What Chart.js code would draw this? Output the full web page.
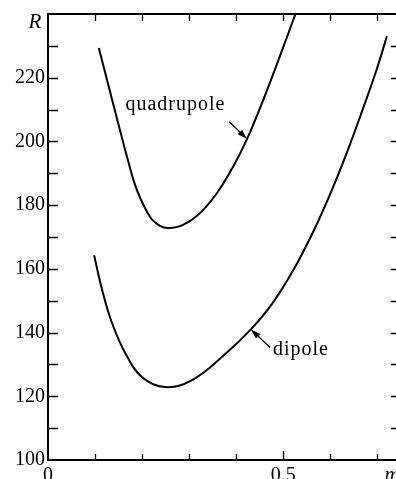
<!DOCTYPE html>
<html lang="en">
<head>
  <meta charset="UTF-8">
  <title>R vs m</title>
  <script src="https://cdn.jsdelivr.net/npm/chart.js"></script>
  <style>
    html, body { margin: 0; padding: 0; background: #fff; overflow: hidden; }
    #wrap { width: 402px; height: 479px; }
  </style>
</head>
<body>
  <div id="wrap"><canvas id="rChart" width="402" height="479"></canvas></div>

  <script>
    // values
    const quadM = [0.108, 0.132, 0.149, 0.168, 0.189, 0.217, 0.238, 0.256, 0.287, 0.323, 0.359, 0.393, 0.423, 0.450, 0.472, 0.499, 0.525];
    const quadR = [229.3, 215.5, 205.8, 195.1, 184.7, 176.3, 173.5, 172.8, 173.8, 177.5, 183.8, 192, 200.8, 210.3, 218.6, 229.3, 239.7];
    const dipM = [0.098, 0.115, 0.136, 0.164, 0.200, 0.249, 0.306, 0.376, 0.431, 0.476, 0.520, 0.563, 0.599, 0.635, 0.669, 0.699, 0.720];
    const dipR = [164.3, 153.4, 143, 133.6, 126, 122.9, 125.1, 133.2, 141, 149, 159.3, 171.5, 183.3, 196.5, 210.2, 222.9, 233];

    const yLabels = [100, 120, 140, 160, 180, 200, 220];
    const xLabels = [0, 0.5];

    const serif = '"Liberation Serif", "Times New Roman", serif';

    function pts(xs, ys) {
      return xs.map((x, i) => ({ x: x, y: ys[i] }));
    }

    // frame, inward ticks, labels and arrows
    const decor = {
      id: 'decor',
      afterDraw(chart) {
        const ctx = chart.ctx;
        const xs = chart.scales.x, ys = chart.scales.y;
        const a = chart.chartArea;
        ctx.save();
        ctx.strokeStyle = '#000';
        ctx.fillStyle = '#000';

        // frame
        ctx.lineWidth = 2;
        ctx.beginPath();
        ctx.moveTo(a.right, a.top);
        ctx.lineTo(a.left, a.top);
        ctx.lineTo(a.left, a.bottom);
        ctx.lineTo(a.right, a.bottom);
        ctx.lineTo(a.right, a.top);
        ctx.stroke();

        // y ticks (left and right)
        ctx.lineWidth = 1.3;
        for (let v = 110; v <= 230; v += 10) {
          const py = Math.round(ys.getPixelForValue(v)) + 0.5;
          ctx.beginPath();
          ctx.moveTo(a.left, py); ctx.lineTo(a.left + 10, py);
          ctx.moveTo(a.right, py); ctx.lineTo(a.right - 10, py);
          ctx.stroke();
        }
        // x ticks (bottom and top)
        for (let i = 1; i <= 7; i++) {
          const px = Math.round(xs.getPixelForValue(i / 10)) + 0.5;
          const len = i === 5 ? 9 : 6;
          ctx.beginPath();
          ctx.moveTo(px, a.bottom); ctx.lineTo(px, a.bottom - len);
          ctx.moveTo(px, a.top); ctx.lineTo(px, a.top + 7);
          ctx.stroke();
        }

        // tick labels
        ctx.font = '20px ' + serif;
        ctx.textAlign = 'right';
        ctx.textBaseline = 'middle';
        yLabels.forEach(v => {
          ctx.fillText(String(v), a.left - 3, ys.getPixelForValue(v));
        });
        ctx.textAlign = 'center';
        ctx.textBaseline = 'alphabetic';
        xLabels.forEach(v => {
          ctx.fillText(String(v), xs.getPixelForValue(v), a.bottom + 21);
        });

        // axis names
        ctx.font = 'italic 21px ' + serif;
        ctx.textAlign = 'center';
        ctx.fillText('R', 35, ys.getPixelForValue(235.5));
        ctx.fillText('m', 392, a.bottom + 21);

        // curve labels with arrows
        ctx.font = '20px ' + serif;
        ctx.letterSpacing = '1px';
        ctx.textBaseline = 'middle';
        ctx.textAlign = 'right';
        ctx.fillText('quadrupole', xs.getPixelForValue(0.377), ys.getPixelForValue(211.5));
        ctx.textAlign = 'left';
        ctx.fillText('dipole', xs.getPixelForValue(0.478), ys.getPixelForValue(134.5));
        ctx.letterSpacing = '0px';

        arrow(ctx, xs.getPixelForValue(0.385), ys.getPixelForValue(206.2),
                   xs.getPixelForValue(0.423), ys.getPixelForValue(200.8));
        arrow(ctx, xs.getPixelForValue(0.472), ys.getPixelForValue(135.3),
                   xs.getPixelForValue(0.431), ys.getPixelForValue(141));
        ctx.restore();
      }
    };

    function arrow(ctx, x1, y1, x2, y2) {
      const ang = Math.atan2(y2 - y1, x2 - x1);
      const hl = 10, hw = 3.2;
      ctx.lineWidth = 1.3;
      ctx.beginPath();
      ctx.moveTo(x1, y1);
      ctx.lineTo(x2 - hl * Math.cos(ang), y2 - hl * Math.sin(ang));
      ctx.stroke();
      ctx.beginPath();
      ctx.moveTo(x2, y2);
      ctx.lineTo(x2 - hl * Math.cos(ang) + hw * Math.sin(ang), y2 - hl * Math.sin(ang) - hw * Math.cos(ang));
      ctx.lineTo(x2 - hl * Math.cos(ang) - hw * Math.sin(ang), y2 - hl * Math.sin(ang) + hw * Math.cos(ang));
      ctx.closePath();
      ctx.fill();
    }

    const lineStyle = {
      showLine: true,
      borderColor: '#000',
      backgroundColor: '#000',
      borderWidth: 2,
      pointRadius: 0,
      tension: 0.4
    };

    const ctx = document.getElementById('rChart').getContext('2d');
    new Chart(ctx, {
      type: 'scatter',
      data: {
        datasets: [
          Object.assign({ label: 'quadrupole', data: pts(quadM, quadR) }, lineStyle),
          Object.assign({ label: 'dipole', data: pts(dipM, dipR) }, lineStyle)
        ]
      },
      options: {
        responsive: false,
        animation: false,
        devicePixelRatio: 1,
        layout: { padding: { left: 48, top: 14, right: 1, bottom: 19 } },
        plugins: { legend: { display: false }, tooltip: { enabled: false } },
        scales: {
          x: { type: 'linear', min: 0, max: 0.75, display: false },
          y: { type: 'linear', min: 100, max: 240, display: false }
        }
      },
      plugins: [decor]
    });
  </script>
</body>
</html>
